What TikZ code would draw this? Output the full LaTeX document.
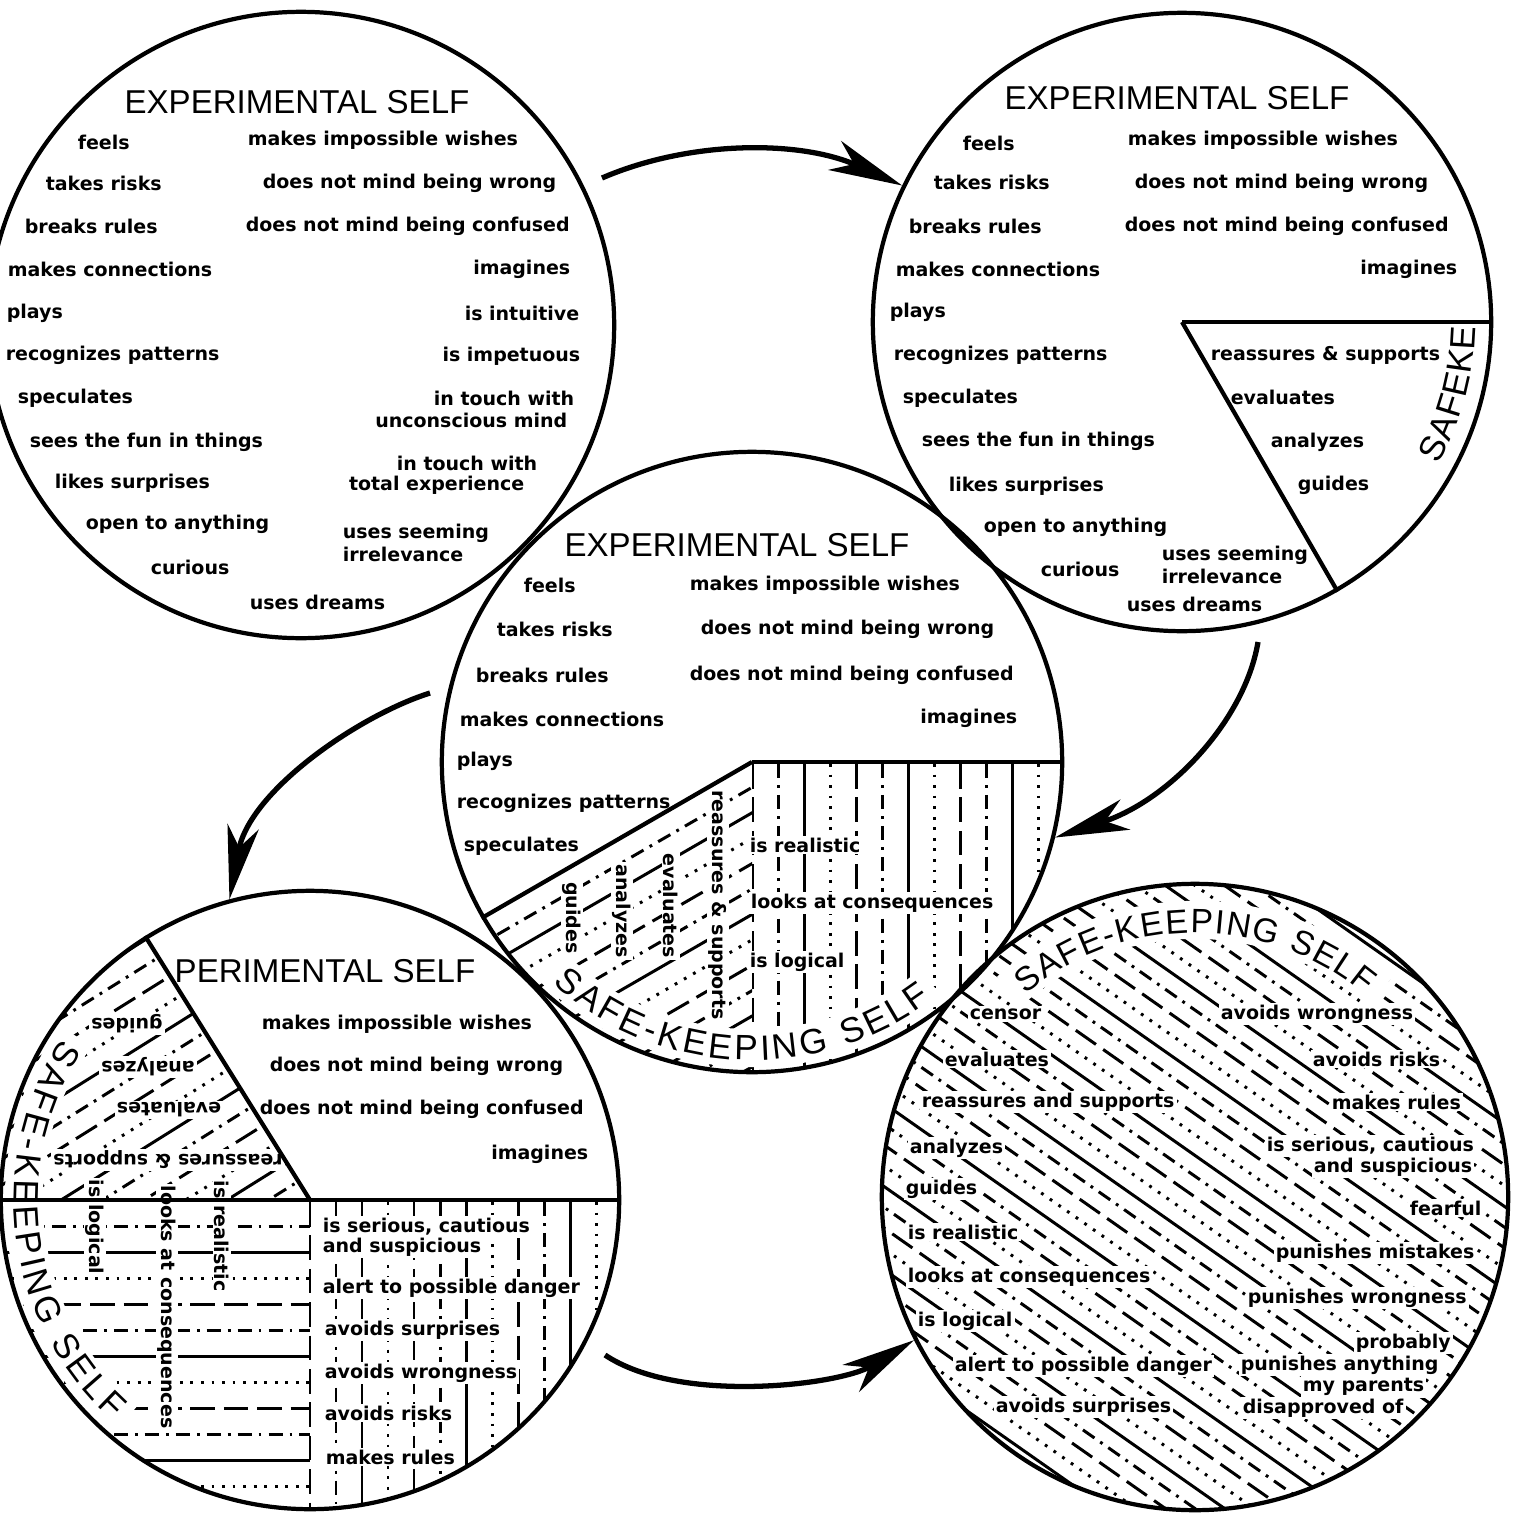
\documentclass[tikz,border=0pt]{standalone}
\usepackage{fontspec}
\usetikzlibrary{arrows.meta, decorations.text}
\newfontfamily\headfont{Liberation Sans}
\newfontfamily\traitfont{DejaVu Sans}
\newcommand\safebig{\headfont\fontsize{10}{12}\selectfont}
\newcommand\safemid{\headfont\fontsize{10}{12}\selectfont}
\newcommand\safesmall{\headfont\fontsize{9.6}{11}\selectfont}

\begin{document}
\begin{tikzpicture}[x=0.01cm, y=-0.01cm,
    self/.style={circle, draw, line width=1.2pt, inner sep=0pt},
    pieline/.style={line width=1.2pt},
    ringtitle/.style={font=\headfont\fontsize{9.4}{11}\selectfont, inner sep=0pt},
    trait/.style={font=\traitfont\bfseries\fontsize{5.4}{6.5}\selectfont, inner sep=0.6pt, anchor=west},
    traitr/.style={trait, anchor=east},
    hattrait/.style={trait, fill=white},
    hatch0/.style={line width=0.85pt, dash pattern=on 7pt off 2.5pt},
    hatch1/.style={line width=0.85pt, dash pattern=on 4pt off 2pt on 0.8pt off 2pt},
    hatch2/.style={line width=0.85pt},
    hatch3/.style={line width=0.85pt, dash pattern=on 0.8pt off 2.2pt},
    band/.style={white, line width=0.38cm},
    flow/.style={line width=1.5pt, -{Stealth[length=21pt, width=9pt, inset=6pt]}}]
        \useasboundingbox (0,0) rectangle (1515,1515);
        \clip (0,0) rectangle (1515,1515);

        %circles
        \node[self, minimum size=6.26cm] (c1) at (301,325) {};
        \node[self, minimum size=6.18cm] (c2) at (1182,322) {};
        \node[self, minimum size=6.2cm] (c3) at (752,762) {};
        \node[self, minimum size=6.18cm] (c4) at (310,1200) {};
        \node[self, minimum size=6.26cm] (c5) at (1195,1197) {};

        %hatching, middle circle
        \begin{scope}
            \clip (c3.center) circle[radius=3.1cm];
            \clip (752,762) rectangle (1100,1100);
            \foreach \k in {0,...,12} {
                \pgfmathtruncatemacro\m{mod(\k,4)}
                \draw[hatch\m] ({752+26*\k},764) -- ++(0,340);
            }
        \end{scope}
        \begin{scope}
            \clip (c3.center) circle[radius=3.1cm];
            \clip (752,762) -- (232,1062) -- (232,1400) -- (752,1400) -- cycle;
            \foreach \k in {1,...,13} {
                \pgfmathtruncatemacro\m{mod(\k,4)}
                \draw[hatch\m] ({406+11*\k},{962+19.05*\k}) -- ++(692,-400);
            }
        \end{scope}

        %hatching, bottom left circle
        \begin{scope}
            \clip (c4.center) circle[radius=3.09cm];
            \clip (310,1200) -- (-8,691) -- (-50,691) -- (-50,1200) -- cycle;
            \foreach \k in {1,...,14} {
                \pgfmathtruncatemacro\m{mod(\k,4)}
                \draw[hatch\m] ({-29-11.66*\k},{1412-18.66*\k}) -- ++(678,-424);
            }
        \end{scope}
        \begin{scope}
            \clip (c4.center) circle[radius=3.09cm];
            \foreach \k in {1,...,12} {
                \pgfmathtruncatemacro\m{mod(\k,4)}
                \draw[hatch\m] (-10,{1200+26*\k}) -- (310,{1200+26*\k});
            }
            \foreach \k in {0,...,12} {
                \pgfmathtruncatemacro\m{mod(\k,4)}
                \draw[hatch\m] ({310+26*\k},1202) -- ({310+26*\k},1520);
            }
        \end{scope}

        %hatching, bottom right circle
        \begin{scope}
            \clip (c5.center) circle[radius=3.13cm];
            \foreach \k in {-19,...,19} {
                \pgfmathtruncatemacro\m{mod(\k+40,4)}
                \draw[hatch\m] ({900+9.76*\k},{990-13.92*\k}) -- ++(590,414);
            }
        \end{scope}

        %room for the curved titles
        \draw[band] ([shift={(226:2.86cm)}]c3.center) arc[start angle=226, end angle=309, radius=2.86cm];
        \draw[band] ([shift={(145:2.86cm)}]c4.center) arc[start angle=145, end angle=230, radius=2.86cm];
        \draw[band] ([shift={(132:2.77cm)}]c5.center) arc[start angle=132, end angle=48, radius=2.77cm];

        %top left circle
        \node[ringtitle] (a0) at (297,102) {EXPERIMENTAL SELF};
        \node[trait] (a1) at (75,142) {feels};
        \node[trait] (a2) at (43,183) {takes risks};
        \node[trait] (a3) at (22,226) {breaks rules};
        \node[trait] (a4) at (5,269) {makes connections};
        \node[trait] (a5) at (4,313) {plays};
        \node[trait] (a6) at (3,355) {recognizes patterns};
        \node[trait] (a7) at (15,398) {speculates};
        \node[trait] (a8) at (27,442) {sees the fun in things};
        \node[trait] (a9) at (52,483) {likes surprises};
        \node[trait] (a10) at (83,524) {open to anything};
        \node[trait] (a11) at (148,567) {curious};
        \node[trait] (a12) at (247,602) {uses dreams};
        \node[trait] (a13) at (245,140) {makes impossible wishes};
        \node[trait] (a14) at (260,183) {does not mind being wrong};
        \node[trait] (a15) at (243,226) {does not mind being confused};
        \node[traitr] (a16) at (573,269) {imagines};
        \node[traitr] (a17) at (582,313) {is intuitive};
        \node[traitr] (a18) at (583,356) {is impetuous};
        \node[traitr] (a19) at (577,398) {in touch with};
        \node[traitr] (a20) at (570,420) {unconscious mind};
        \node[traitr] (a21) at (540,463) {in touch with};
        \node[traitr] (a22) at (527,485) {total experience};
        \node[trait] (a23) at (340,533) {uses seeming};
        \node[trait] (a24) at (340,554) {irrelevance};

        %top right circle
        \node[ringtitle] (b0) at (1177,98) {EXPERIMENTAL SELF};
        \node[trait] (b1) at (960,143) {feels};
        \node[trait] (b2) at (931,182) {takes risks};
        \node[trait] (b3) at (906,226) {breaks rules};
        \node[trait] (b4) at (893,269) {makes connections};
        \node[trait] (b5) at (887,312) {plays};
        \node[trait] (b6) at (891,355) {recognizes patterns};
        \node[trait] (b7) at (900,398) {speculates};
        \node[trait] (b8) at (919,441) {sees the fun in things};
        \node[trait] (b9) at (946,486) {likes surprises};
        \node[trait] (b10) at (981,527) {open to anything};
        \node[trait] (b11) at (1038,569) {curious};
        \node[trait] (b12) at (1124,604) {uses dreams};
        \node[trait] (b13) at (1125,140) {makes impossible wishes};
        \node[trait] (b14) at (1132,183) {does not mind being wrong};
        \node[trait] (b15) at (1122,226) {does not mind being confused};
        \node[traitr] (b16) at (1460,269) {imagines};
        \node[trait] (b17) at (1159,555) {uses seeming};
        \node[trait] (b18) at (1159,576) {irrelevance};
        \node[trait] (b19) at (1208,355) {reassures \& supports};
        \node[trait] (b20) at (1228,397) {evaluates};
        \node[trait] (b21) at (1268,442) {analyzes};
        \node[trait] (b22) at (1295,485) {guides};
        \path[decorate, decoration={text along path, text={|\safemid|SAFEKE}, text align={fit to path}}]
            ([shift={(-29:2.93cm)}]c2.center) arc[start angle=-29, end angle=-1, radius=2.93cm];

        %middle circle
        \node[ringtitle] (m0) at (737,545) {EXPERIMENTAL SELF};
        \node[trait] (m1) at (521,585) {feels};
        \node[trait] (m2) at (494,629) {takes risks};
        \node[trait] (m3) at (473,675) {breaks rules};
        \node[trait] (m4) at (457,719) {makes connections};
        \node[trait] (m5) at (454,761) {plays};
        \node[trait] (m6) at (454,803) {recognizes patterns};
        \node[trait] (m7) at (461,846) {speculates};
        \node[trait] (m8) at (687,585) {makes impossible wishes};
        \node[trait] (m9) at (698,629) {does not mind being wrong};
        \node[trait] (m10) at (687,675) {does not mind being confused};
        \node[traitr] (m11) at (1020,718) {imagines};
        \node[hattrait] (m12) at (747,845) {is realistic};
        \node[hattrait] (m13) at (748,903) {looks at consequences};
        \node[hattrait] (m14) at (747,962) {is logical};
        \node[hattrait, anchor=center, rotate=-90] (m15) at (718,905) {reassures \& supports};
        \node[hattrait, anchor=center, rotate=-90] (m16) at (671,906) {evaluates};
        \node[hattrait, anchor=center, rotate=-90] (m17) at (622,911) {analyzes};
        \node[hattrait, anchor=center, rotate=-90] (m18) at (572,918) {guides};
        \path[decorate, decoration={text along path, text={|\safebig|SAFE-KEEPING SELF}, text align={fit to path}}]
            ([shift={(228:2.98cm)}]c3.center) arc[start angle=228, end angle=307, radius=2.98cm];

        %bottom left circle
        \node[ringtitle, anchor=west] (d0) at (174,971) {PERIMENTAL SELF};
        \node[trait] (d1) at (259,1024) {makes impossible wishes};
        \node[trait] (d2) at (267,1066) {does not mind being wrong};
        \node[trait] (d3) at (257,1109) {does not mind being confused};
        \node[traitr] (d4) at (591,1154) {imagines};
        \node[hattrait, anchor=center, rotate=180] (d5) at (127,1024) {guides};
        \node[hattrait, anchor=center, rotate=180] (d6) at (148,1067) {analyzes};
        \node[hattrait, anchor=center, rotate=180] (d7) at (169,1110) {evaluates};
        \node[hattrait, anchor=center, rotate=180] (d8) at (168,1160) {reassures \& supports};
        \node[hattrait, anchor=center, rotate=-90] (d9) at (95,1227) {is logical};
        \node[hattrait, anchor=center, rotate=-90] (d10) at (167,1307) {looks at consequences};
        \node[hattrait, anchor=center, rotate=-90] (d11) at (222,1236) {is realistic};
        \node[hattrait] (d12) at (320,1227) {is serious, cautious};
        \node[hattrait] (d13) at (320,1247) {and suspicious};
        \node[hattrait] (d14) at (320,1288) {alert to possible danger};
        \node[hattrait] (d15) at (322,1330) {avoids surprises};
        \node[hattrait] (d16) at (322,1373) {avoids wrongness};
        \node[hattrait] (d17) at (322,1413) {avoids risks};
        \node[hattrait] (d18) at (323,1457) {makes rules};
        \path[decorate, decoration={text along path, text={|\safebig|SAFE-KEEPING SELF}, text align={fit to path}}]
            ([shift={(147:2.96cm)}]c4.center) arc[start angle=147, end angle=228, radius=2.96cm];

        %bottom right circle
        \node[hattrait] (e1) at (967,1014) {censor};
        \node[hattrait] (e2) at (1218,1014) {avoids wrongness};
        \node[hattrait] (e3) at (942,1059) {evaluates};
        \node[hattrait] (e4) at (1310,1059) {avoids risks};
        \node[hattrait] (e5) at (919,1102) {reassures and supports};
        \node[hattrait] (e6) at (1329,1102) {makes rules};
        \node[hattrait] (e7) at (907,1148) {analyzes};
        \node[hattrait] (e8) at (1264,1146) {is serious, cautious};
        \node[hattrait] (e9) at (1311,1167) {and suspicious};
        \node[hattrait] (e10) at (903,1189) {guides};
        \node[hattrait] (e11) at (1407,1208) {fearful};
        \node[hattrait] (e12) at (905,1232) {is realistic};
        \node[hattrait] (e13) at (1273,1253) {punishes mistakes};
        \node[hattrait] (e14) at (905,1277) {looks at consequences};
        \node[hattrait] (e15) at (1245,1298) {punishes wrongness};
        \node[hattrait] (e16) at (915,1321) {is logical};
        \node[hattrait] (e17) at (1353,1343) {probably};
        \node[hattrait] (e18) at (952,1366) {alert to possible danger};
        \node[hattrait] (e19) at (1238,1365) {punishes anything};
        \node[hattrait] (e20) at (1300,1387) {my parents};
        \node[hattrait] (e21) at (993,1407) {avoids surprises};
        \node[hattrait] (e22) at (1240,1408) {disapproved of};
        \path[decorate, decoration={text along path, text={|\safesmall|SAFE-KEEPING SELF}, text align={fit to path}}]
            ([shift={(130:2.64cm)}]c5.center) arc[start angle=130, end angle=50, radius=2.64cm];

        %split lines
        \draw[pieline] (c2.center) -- (c2.0);
        \draw[pieline] (c2.center) -- (c2.-60);
        \draw[pieline] (c3.center) -- (c3.0);
        \draw[pieline] (c3.center) -- (c3.210);
        \draw[pieline] (c4.center) -- (c4.0);
        \draw[pieline] (c4.center) -- (c4.122);
        \draw[pieline] (c4.center) -- (c4.180);

        %arrows
        \coordinate (s1) at (602,178);
        \coordinate (s2) at (1258,642);
        \coordinate (s3) at (430,693);
        \coordinate (s4) at (605,1355);
        \draw[flow] (s1) .. controls (690,140) and (800,140) .. (c2.154);
        \draw[flow] (s2) .. controls (1245,720) and (1170,800) .. (c3.-14);
        \draw[flow] (s3) .. controls (360,715) and (250,790) .. (c4.105);
        \draw[flow] (s4) .. controls (680,1405) and (840,1385) .. (c5.207);
    \end{tikzpicture}
\end{document}
